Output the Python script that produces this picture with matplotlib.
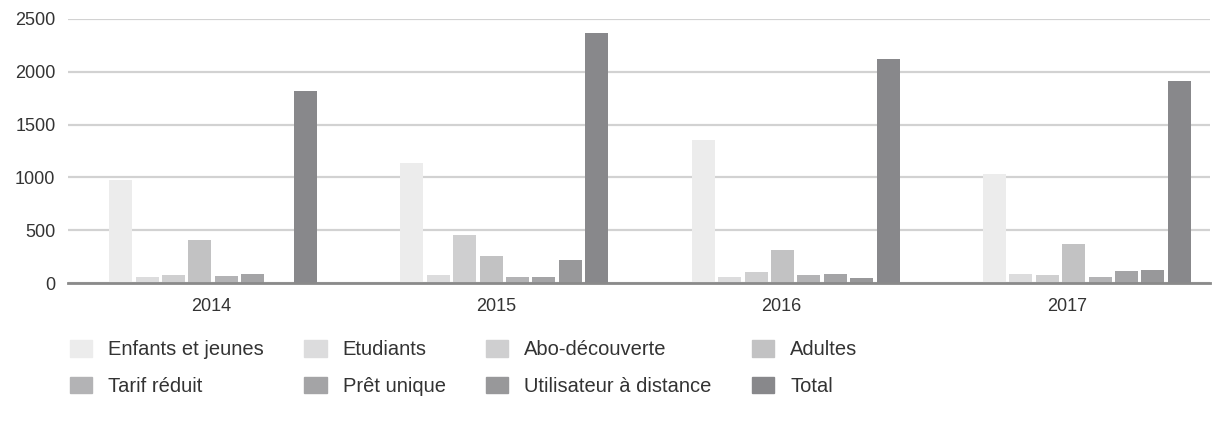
import numpy as np
import matplotlib
matplotlib.use("Agg")
import matplotlib.pyplot as plt
from matplotlib.patches import Rectangle

years = ["2014", "2015", "2016", "2017"]
series = ["Enfants et jeunes", "Etudiants", "Abo-découverte", "Adultes",
          "Tarif réduit", "Prêt unique", "Utilisateur à distance", "Total"]

enfants = [973, 1134, 1352, 1030]
etudiants = [57, 76, 57, 85]
abo = [76, 454, 104, 76]
adultes = [406, 255, 312, 369]
tarif = [66, 57, 76, 57]
pret = [85, 57, 85, 113]
distance = [0, 217, 47, 123]
total = [1815, 2363, 2117, 1909]

colors = ["#ececec", "#dcdcdd", "#cfcfd0", "#c2c2c3",
          "#b3b3b5", "#a4a4a6", "#98989a", "#88888b"]

values = [enfants, etudiants, abo, adultes, tarif, pret, distance, total]

plt.rcParams['font.family'] = ['Liberation Sans', 'DejaVu Sans']
fig = plt.figure(figsize=(12.25, 4.3), dpi=100)
ax = fig.add_axes([68/1225, 1 - 283/430, (1210 - 68)/1225, (283 - 19)/430])

x = np.arange(len(years))
group_pitch = 1.0203
slot = 0.0925
width = 0.0806
for i, (vals, col) in enumerate(zip(values, colors)):
    ax.bar(x * group_pitch + (i - 3.5) * slot + 0.008, vals, width=width,
           color=col, zorder=3)

ax.set_xlim(-0.5, 3.5)
ax.set_ylim(0, 2500)
ax.set_yticks([0, 500, 1000, 1500, 2000, 2500])
ax.set_xticks(x)
ax.set_xticklabels(years)
ax.yaxis.grid(True, color="#d2d2d2", linewidth=1.6, zorder=0)
ax.set_axisbelow(True)
for s in ["top", "right", "left"]:
    ax.spines[s].set_visible(False)
ax.spines["bottom"].set_color("#8a8a8a")
ax.spines["bottom"].set_linewidth(2)
ax.spines["bottom"].set_zorder(4)
ax.tick_params(axis="both", length=0, labelsize=13, colors="#333333")
ax.tick_params(axis="y", pad=9)
ax.tick_params(axis="x", pad=11)

# legend fills column by column, so reorder to read row by row
order = [0, 4, 1, 5, 2, 6, 3, 7]
handles = [Rectangle((0, 0), 1, 1, color=colors[k]) for k in order]
labels = [series[k] for k in order]
fig.legend(handles, labels, ncol=4, loc="upper left",
           bbox_to_anchor=(52/1225, 1 - 322/430), frameon=False,
           fontsize=14.5, handlelength=1.1, handleheight=0.9,
           handletextpad=0.8, columnspacing=2.0, labelspacing=0.85,
           labelcolor="#333333")

fig.savefig("out.png", dpi=100)
